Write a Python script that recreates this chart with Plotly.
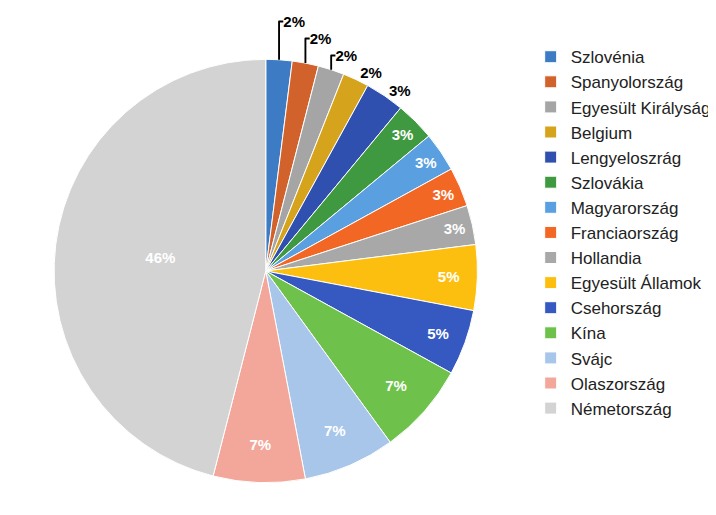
import plotly.graph_objects as go

labels = ["Szlovénia","Spanyolország","Egyesült Királyság","Belgium","Lengyeloszrág","Szlovákia",
          "Magyarország","Franciaország","Hollandia","Egyesült Államok","Csehország","Kína","Svájc",
          "Olaszország","Németország"]
values = [2,2,2,2,3,3,3,3,3,5,5,7,7,7,46]
colors = ["#3d7cc4","#d2622b","#a5a5a5","#d6a31c","#3050b0","#3f9940","#5a9fdf","#f26724",
          "#a8a8a8","#fcbf10","#3559c0","#6ec24c","#a7c6ea","#f3a79b","#d3d3d3"]
positions = ["outside"]*5 + ["inside"]*10
textcolors = ["black"]*5 + ["white"]*10

fig = go.Figure(go.Pie(
    labels=labels, values=values, sort=False, direction="clockwise", rotation=0,
    marker=dict(colors=colors, line=dict(color="white", width=1)),
    texttemplate="<b>%{value}%</b>", textposition=positions,
    textfont=dict(color=textcolors, size=15, family="Liberation Sans"),
    insidetextorientation="horizontal",
    domain=dict(x=[0.055, 0.665], y=[0.08, 0.92]),
))
fig.update_layout(
    width=716, height=515, margin=dict(l=0, r=0, t=0, b=0),
    paper_bgcolor="white",
    font=dict(family="Liberation Sans", color="#222"),
    legend=dict(x=0.73, y=0.96, yanchor="top", font=dict(size=17), itemwidth=30),
    uniformtext=dict(minsize=10, mode="show"),
)
fig.write_html("out.html")
